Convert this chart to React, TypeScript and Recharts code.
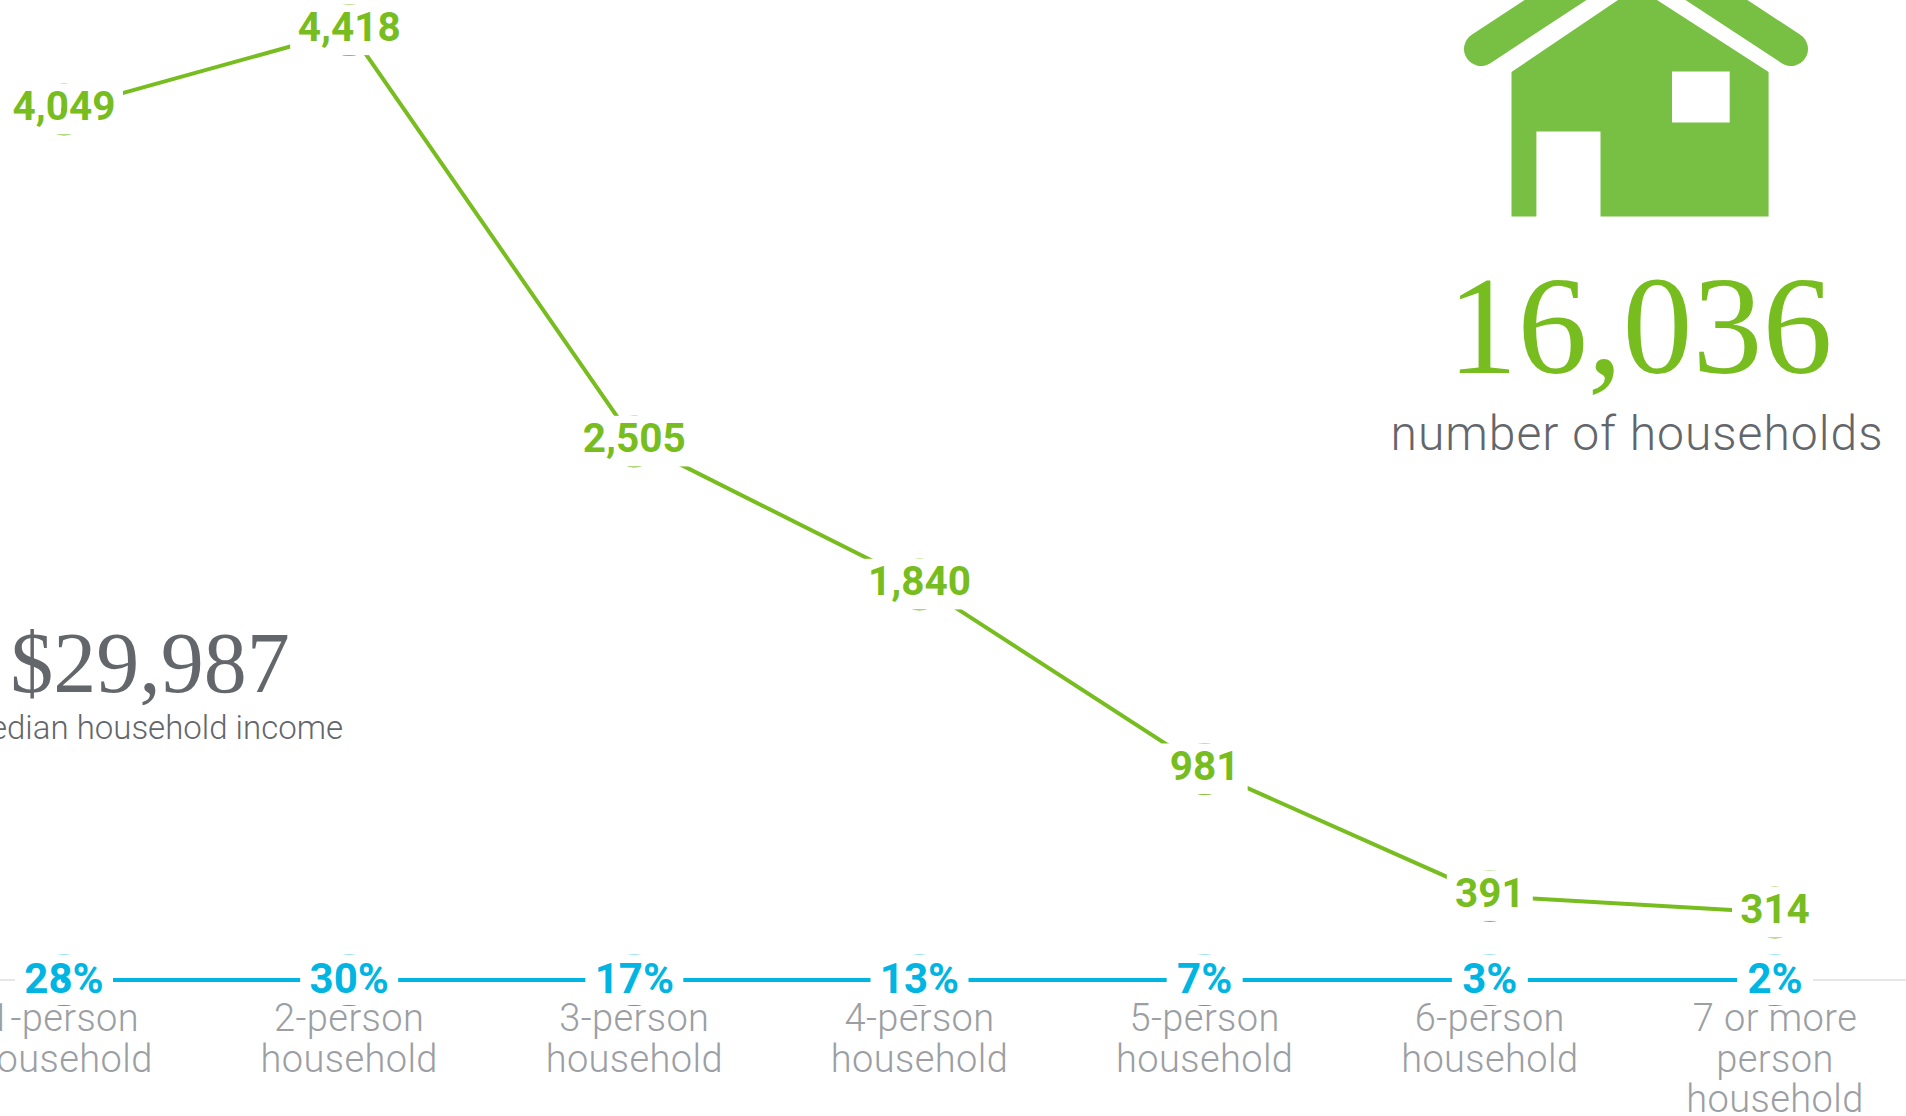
import React from 'react';
import { LineChart, Line, XAxis, YAxis, LabelList, ReferenceLine } from 'recharts';

const categories = [
  '1-person\nhousehold',
  '2-person\nhousehold',
  '3-person\nhousehold',
  '4-person\nhousehold',
  '5-person\nhousehold',
  '6-person\nhousehold',
  '7 or more\nperson\nhousehold',
];
const households = [4049, 4418, 2505, 1840, 981, 391, 314];
const shares = [28, 30, 17, 13, 7, 3, 2];
const baseline = [0, 0, 0, 0, 0, 0, 0];

const GREEN = '#78bd20';
const BLUE = '#00b5e2';
const GREY_TEXT = '#9b9ea3';
const DARK_TEXT = '#63666a';

const data = categories.map((name, i) => ({
  name,
  households: households[i],
  share: shares[i],
  baseline: baseline[i],
}));

const HouseholdDot = (props: any) => {
  const { cx, cy, payload } = props;
  const half = payload.households.toLocaleString('en-US').length * 8 + 19;
  return (
    <g>
      <circle cx={cx} cy={cy} r={25} fill="#fff" stroke={GREEN} strokeWidth={2} />
      <rect x={cx - half} y={cy - 25.6} width={half * 2} height={50.6} fill="#fff" />
    </g>
  );
};

const ShareDot = (props: any) => {
  const { cx, cy, payload } = props;
  const half = `${payload.share}%`.length * 11 + 16;
  return (
    <g>
      <circle cx={cx} cy={cy} r={25} fill="#fff" stroke={BLUE} strokeWidth={2} />
      <rect x={cx - half} y={cy - 25.6} width={half * 2} height={50.6} fill="#fff" />
    </g>
  );
};

const HouseholdLabel = (props: any) => (
  <text
    x={props.x}
    y={props.y + 11}
    textAnchor="middle"
    fill={GREEN}
    fontFamily="Roboto"
    fontWeight={700}
    fontSize={40.5}
  >
    {Number(props.value).toLocaleString('en-US')}
  </text>
);

const ShareLabel = (props: any) => (
  <text
    x={props.x}
    y={props.y + 13}
    textAnchor="middle"
    fill={BLUE}
    fontFamily="Roboto"
    fontWeight={700}
    fontSize={42}
  >
    {props.value}%
  </text>
);

const CategoryTick = (props: any) => {
  const lines = String(props.payload.value).split('\n');
  return (
    <text
      textAnchor="middle"
      fill={GREY_TEXT}
      fontFamily="Roboto"
      fontWeight={300}
      fontSize={38}
      letterSpacing={0.4}
    >
      {lines.map((line, i) => (
        <tspan key={line} x={props.x} y={1031 + i * 40.7}>
          {line}
        </tspan>
      ))}
    </text>
  );
};

const HouseIcon = () => (
  <g>
    <path
      fill="#78c043"
      fillRule="evenodd"
      d="M1511.5 72 L1618 0 L1657 0 L1768.6 72 L1768.6 216.5 L1600.5 216.5 L1600.5 131.5 L1536.4 131.5 L1536.4 216.5 L1511.5 216.5 Z M1672 71.5 L1672 122.5 L1729.7 122.5 L1729.7 71.5 Z"
    />
    <line x1={1481} y1={49} x2={1586} y2={-20} stroke="#78c043" strokeWidth={34} strokeLinecap="round" />
    <line x1={1791} y1={49} x2={1686} y2={-20} stroke="#78c043" strokeWidth={34} strokeLinecap="round" />
  </g>
);

const Callouts = () => (
  <svg
    width={1906}
    height={1116}
    style={{ position: 'absolute', left: 0, top: 0, pointerEvents: 'none' }}
  >
    <HouseIcon />
    <text x={1640} y={373} textAnchor="middle" fill={GREEN} fontFamily="Liberation Serif" fontSize={140}>
      16,036
    </text>
    <text x={1637} y={450} textAnchor="middle" fill={DARK_TEXT} fontFamily="Roboto" fontWeight={300} fontSize={48} letterSpacing={1}>
      number of households
    </text>
    <text x={150} y={692} textAnchor="middle" fill={DARK_TEXT} fontFamily="Liberation Serif" fontSize={86}>
      $29,987
    </text>
    <text x={343} y={739} textAnchor="end" fill={DARK_TEXT} fontFamily="Roboto" fontWeight={300} fontSize={33}>
      median household income
    </text>
  </svg>
);

export default function App() {
  return (
    <div style={{ position: 'absolute', left: 0, top: 0, width: 1906, height: 1116, overflow: 'hidden', background: '#fff' }}>
      <LineChart width={1906} height={1116} data={data} margin={{ top: 0, right: 0, bottom: 0, left: 0 }}>
        <XAxis
          dataKey="name"
          scale="point"
          padding={{ left: 64, right: 131 }}
          height={136}
          interval={0}
          tickLine={false}
          axisLine={false}
          tick={<CategoryTick />}
        />
        <YAxis hide domain={[0, 4558]} />
        <ReferenceLine y={0} stroke="#e6e7e8" strokeWidth={2} />
        <Line
          dataKey="baseline"
          stroke={BLUE}
          strokeWidth={4}
          dot={<ShareDot />}
          isAnimationActive={false}
        >
          <LabelList dataKey="share" content={<ShareLabel />} />
        </Line>
        <Line
          dataKey="households"
          stroke={GREEN}
          strokeWidth={4}
          dot={<HouseholdDot />}
          isAnimationActive={false}
        >
          <LabelList dataKey="households" content={<HouseholdLabel />} />
        </Line>
      </LineChart>
      <Callouts />
    </div>
  );
}
